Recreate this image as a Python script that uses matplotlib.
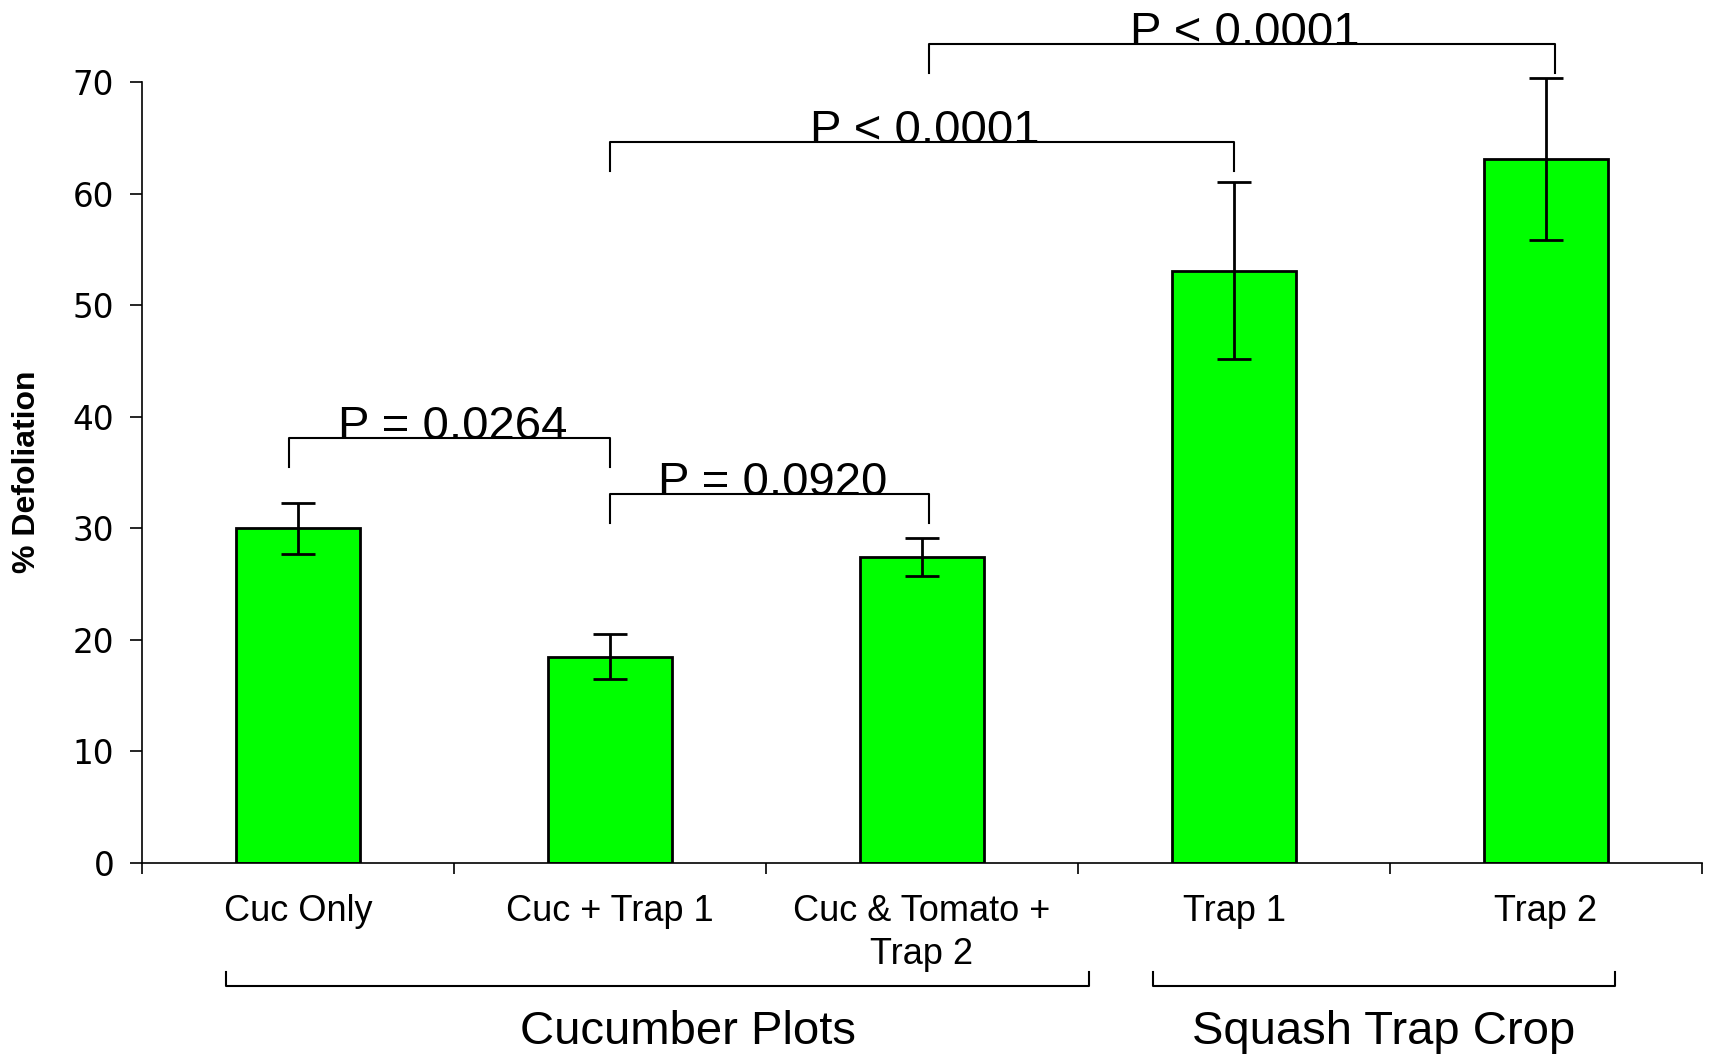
import matplotlib
matplotlib.use("Agg")
import matplotlib.pyplot as plt

categories = ["Cuc Only", "Cuc + Trap 1", "Cuc & Tomato +\nTrap 2", "Trap 1", "Trap 2"]
values = [30.0, 18.5, 27.4, 53.1, 63.1]
errors = [2.3, 2.0, 1.7, 7.9, 7.3]
yticks = [0, 10, 20, 30, 40, 50, 60, 70]

# comparisons: (left idx, right idx, label)
comparisons = [(0, 1, "P = 0.0264"), (1, 2, "P = 0.0920"), (1, 3, "P < 0.0001"), (2, 4, "P < 0.0001")]
comp_levels = [38.1, 33.1, 64.6, 73.4]
groups = ["Cucumber Plots", "Squash Trap Crop"]
group_spans = [(-0.23, 2.535), (2.74, 4.22)]
group_label_x = [1.25, 3.48]

# small horizontal offsets of bracket feet relative to bar centres (layout)
bracket_offset = {0: -0.028, 1: 0.0, 2: 0.022, 3: 0.0, 4: 0.028}

plt.rcParams['font.family'] = ['Liberation Sans', 'DejaVu Sans']

fig = plt.figure(figsize=(17.13, 10.54), dpi=100)
ax = fig.add_axes([0.0829, 0.1812, 0.9107, 0.741])

x = list(range(len(categories)))
ax.bar(x, values, width=0.4, color="#00FF00", edgecolor="black", linewidth=2, zorder=2)
eb = ax.errorbar(x, values, yerr=errors, fmt="none", ecolor="black", elinewidth=2,
                 capsize=12, capthick=2, zorder=3)
for art in eb.lines[1] + eb.lines[2]:
    art.set_clip_on(False)
for art in eb.lines[2]:
    art.set_clip_on(False)

ax.set_xlim(-0.5, 4.5)
ax.set_ylim(0, 70)
ax.spines['top'].set_visible(False)
ax.spines['right'].set_visible(False)
ax.spines['left'].set_linewidth(1.2)
ax.spines['bottom'].set_linewidth(1.2)

ax.set_yticks(yticks)
ax.set_yticklabels([str(t) for t in yticks], fontfamily='DejaVu Sans', fontsize=23.5)
ax.tick_params(axis='y', length=9, width=1.2, pad=11, direction='out')

ax.set_xticks([i - 0.5 for i in range(len(categories) + 1)])
ax.set_xticklabels([])
ax.tick_params(axis='x', which='major', length=8, width=1.2, direction='out')
ax.set_xticks(x, minor=True)
ax.set_xticklabels(categories, minor=True, fontsize=26, linespacing=1.3, va='top')
ax.tick_params(axis='x', which='minor', length=0, pad=22)

# significance brackets
for (i, j, lab), lvl in zip(comparisons, comp_levels):
    xi = i + bracket_offset[i]
    xj = j + bracket_offset[j]
    ax.plot([xi, xi, xj, xj], [lvl - 2.6, lvl, lvl, lvl - 2.6], color='black', lw=1.5,
            clip_on=False, zorder=4)
    ax.text((xi + xj) / 2 + 0.01, lvl - 1.0, lab, ha='center', va='bottom', fontsize=34,
            clip_on=False, zorder=5)

# group brackets
tr = ax.get_xaxis_transform()
for (a, b), g, gx in zip(group_spans, groups, group_label_x):
    ax.plot([a, a, b, b], [-0.140, -0.158, -0.158, -0.140], color='black', lw=1.5,
            transform=tr, clip_on=False)
    ax.text(gx, -0.216, g, transform=tr, ha='center', va='center', fontsize=34)

fig.text(0.016, 0.552, "% Defoliation", rotation=90, ha='center', va='center',
         fontsize=23, fontweight='bold')

fig.savefig("out.png", dpi=100)
